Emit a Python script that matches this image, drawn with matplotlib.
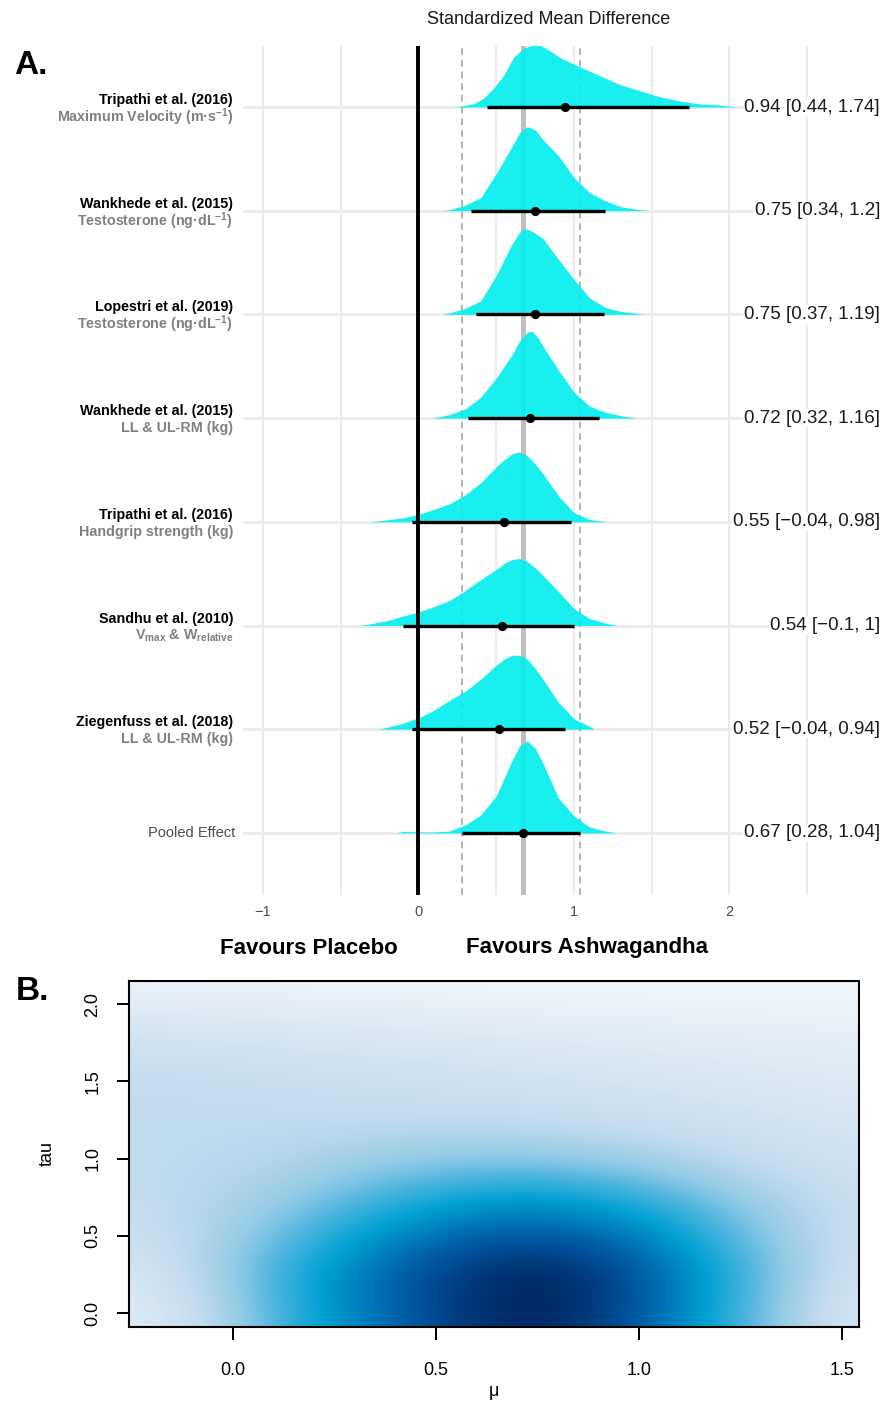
import numpy as np
import matplotlib
matplotlib.use("Agg")
import matplotlib.pyplot as plt
from matplotlib.colors import LinearSegmentedColormap

plt.rcParams['font.family'] = ['Liberation Sans', 'DejaVu Sans']
plt.rcParams['mathtext.fontset'] = 'custom'
plt.rcParams['mathtext.rm'] = 'Liberation Sans'
plt.rcParams['mathtext.bf'] = 'Liberation Sans:bold'
plt.rcParams['mathtext.it'] = 'Liberation Sans:italic'

# ---------------- data: panel A ----------------
study_names = ["Tripathi et al. (2016)", "Wankhede et al. (2015)", "Lopestri et al. (2019)",
               "Wankhede et al. (2015)", "Tripathi et al. (2016)", "Sandhu et al. (2010)",
               "Ziegenfuss et al. (2018)", "Pooled Effect"]
outcomes = [r"Maximum Velocity (m·s$^{\mathbf{-1}}$)", r"Testosterone (ng·dL$^{\mathbf{-1}}$)",
            r"Testosterone (ng·dL$^{\mathbf{-1}}$)", "LL & UL-RM (kg)", "Handgrip strength (kg)",
            r"$\mathbf{V}_{\mathbf{max}}$ & $\mathbf{W}_{\mathbf{relative}}$", "LL & UL-RM (kg)", ""]
smd = [0.94, 0.75, 0.75, 0.72, 0.55, 0.54, 0.52, 0.67]
ci_low = [0.44, 0.34, 0.37, 0.32, -0.04, -0.10, -0.04, 0.28]
ci_high = [1.74, 1.20, 1.19, 1.16, 0.98, 1.00, 0.94, 1.04]
value_labels = ["0.94 [0.44, 1.74]", "0.75 [0.34, 1.2]", "0.75 [0.37, 1.19]", "0.72 [0.32, 1.16]",
                "0.55 [\u22120.04, 0.98]", "0.54 [\u22120.1, 1]", "0.52 [\u22120.04, 0.94]",
                "0.67 [0.28, 1.04]"]
pooled_mean = 0.67
pooled_low = 0.28
pooled_high = 1.04

# posterior ridge profiles (x in SMD, heights in % of row spacing)
ridge0_x = [0.238, 0.356, 0.42, 0.484, 0.549, 0.613, 0.677, 0.73, 0.785, 0.849, 0.913, 1.04,
            1.17, 1.30, 1.43, 1.556, 1.685, 1.81, 1.92, 2.05]
ridge0_h = [0, 3.3, 9, 19, 32, 50, 59, 61.5, 61.5, 56, 49, 40, 31, 22, 16, 10, 6, 3, 2.3, 0]
ridge1_x = [0.15, 0.2, 0.3, 0.4, 0.5, 0.6, 0.65, 0.7, 0.75, 0.8, 0.9, 1.0, 1.1, 1.2, 1.3, 1.4, 1.49]
ridge1_h = [0, 1, 5.5, 13, 37, 64, 78, 84, 81, 71, 55, 33, 18, 10, 4, 1.5, 0]
ridge2_x = [0.15, 0.2, 0.3, 0.4, 0.5, 0.6, 0.65, 0.68, 0.72, 0.8, 0.9, 1.0, 1.1, 1.2, 1.3, 1.4, 1.45]
ridge2_h = [0, 1.5, 6, 13.5, 39, 70, 82, 86, 84, 76, 55, 35, 16.5, 7, 3, 1, 0]
ridge3_x = [0.09, 0.2, 0.3, 0.4, 0.5, 0.6, 0.65, 0.7, 0.73, 0.77, 0.8, 0.9, 1.0, 1.1, 1.2, 1.3, 1.4]
ridge3_h = [0, 3.5, 9, 21, 40, 63, 77, 86, 87, 80, 72, 48, 26, 12, 6, 2.5, 0]
ridge4_x = [-0.31, -0.2, -0.1, 0.0, 0.1, 0.2, 0.3, 0.4, 0.5, 0.55, 0.6, 0.65, 0.7, 0.75, 0.8,
            0.9, 1.0, 1.1, 1.21]
ridge4_h = [0, 2, 4, 7.5, 12.5, 18, 27, 39, 55, 62, 68, 70, 66, 58, 48, 26, 9, 2.5, 0]
ridge5_x = [-0.38, -0.3, -0.2, -0.1, 0.0, 0.1, 0.2, 0.3, 0.4, 0.5, 0.55, 0.6, 0.65, 0.7, 0.75,
            0.8, 0.9, 1.0, 1.1, 1.2, 1.28]
ridge5_h = [0, 2, 5, 9.5, 13.5, 19, 25, 35, 46, 56, 62, 66, 67, 64, 58, 50, 34, 17, 7, 2.5, 0]
ridge6_x = [-0.26, -0.2, -0.1, 0.0, 0.1, 0.2, 0.3, 0.4, 0.5, 0.55, 0.6, 0.65, 0.7, 0.75, 0.8,
            0.9, 1.0, 1.1, 1.13]
ridge6_h = [0, 2, 6, 11.5, 19, 29, 38, 50, 64, 70, 74, 74, 70, 61, 50, 27, 10.5, 3, 0]
ridge7_x = [-0.15, -0.1, 0.0, 0.1, 0.2, 0.3, 0.4, 0.5, 0.6, 0.65, 0.7, 0.75, 0.8, 0.9, 1.0,
            1.1, 1.2, 1.27]
ridge7_h = [0, 1.5, 1, 1, 2, 8, 18, 37, 72, 87, 92, 85, 70, 35, 17, 6, 2, 0]
ridges_x = [ridge0_x, ridge1_x, ridge2_x, ridge3_x, ridge4_x, ridge5_x, ridge6_x, ridge7_x]
ridges_h = [ridge0_h, ridge1_h, ridge2_h, ridge3_h, ridge4_h, ridge5_h, ridge6_h, ridge7_h]

x_ticks = [-1, 0, 1, 2]
x_ticklabels = ["\u22121", "0", "1", "2"]

# ---------------- data: panel B ----------------
mu_grid = [-0.25, -0.05, 0.15, 0.35, 0.55, 0.75, 0.95, 1.15, 1.35, 1.55]
tau_grid = [0.0, 0.25, 0.5, 0.75, 1.0, 1.25, 1.5, 1.75, 2.0, 2.25]
post_density = [
    [0.12, 0.33, 0.58, 0.76, 0.92, 1.00, 0.88, 0.66, 0.42, 0.17],
    [0.19, 0.37, 0.60, 0.78, 0.93, 1.00, 0.90, 0.68, 0.44, 0.22],
    [0.26, 0.36, 0.52, 0.68, 0.80, 0.84, 0.78, 0.60, 0.41, 0.26],
    [0.30, 0.34, 0.42, 0.54, 0.63, 0.66, 0.60, 0.48, 0.36, 0.26],
    [0.31, 0.32, 0.35, 0.40, 0.43, 0.43, 0.40, 0.34, 0.28, 0.23],
    [0.31, 0.31, 0.31, 0.31, 0.31, 0.30, 0.28, 0.25, 0.22, 0.19],
    [0.30, 0.30, 0.28, 0.27, 0.25, 0.23, 0.21, 0.19, 0.17, 0.15],
    [0.24, 0.23, 0.21, 0.19, 0.18, 0.16, 0.15, 0.13, 0.12, 0.11],
    [0.13, 0.12, 0.11, 0.10, 0.09, 0.08, 0.07, 0.07, 0.07, 0.07],
    [0.04, 0.04, 0.04, 0.04, 0.03, 0.03, 0.03, 0.03, 0.03, 0.03],
]
mu_ticks = [0.0, 0.5, 1.0, 1.5]
tau_ticks = [0.0, 0.5, 1.0, 1.5, 2.0]

# ---------------- figure ----------------
W, H = 888, 1403
fig = plt.figure(figsize=(W / 100, H / 100), dpi=100)


def fx(px):
    return px / W


def fy(py):
    return 1 - py / H


# ---- panel A ----
axA = fig.add_axes([fx(243), fy(895), (820 - 243) / W, (895 - 46) / H])
n = len(study_names)
rows = list(range(n, 0, -1))  # top row = n
axA.set_xlim(-1.1286, 2.582)
axA.set_ylim(0.402, n + 0.588)
for s in axA.spines.values():
    s.set_visible(False)
axA.set_yticks([])
axA.set_xticks(x_ticks)
axA.set_xticklabels(x_ticklabels)
axA.tick_params(axis='x', length=0, pad=7, labelsize=10.5, labelcolor='#4d4d4d')

grid_c = '#ebebeb'
for gx in [-1, -0.5, 0, 0.5, 1, 1.5, 2, 2.5]:
    axA.axvline(gx, color=grid_c, lw=1.5, zorder=0)
for r in rows:
    axA.axhline(r, color=grid_c, lw=2.0, zorder=0)

axA.axvline(pooled_low, color='#b3b3b3', lw=1.4, ls=(0, (3.5, 2.5)), zorder=1)
axA.axvline(pooled_high, color='#b3b3b3', lw=1.4, ls=(0, (3.5, 2.5)), zorder=1)
axA.axvline(pooled_mean, color='#bfbfbf', lw=3.6, zorder=1)

SCALE = 1 / 103.7
for i, r in enumerate(rows):
    xs = np.array(ridges_x[i])
    hs = np.array(ridges_h[i]) * SCALE
    axA.fill_between(xs, r, r + hs, color='#00eeee', alpha=0.9, lw=0, zorder=2, clip_on=False)

axA.axvline(0, color='black', lw=2.8, zorder=3)

for i, r in enumerate(rows):
    axA.plot([ci_low[i], ci_high[i]], [r, r], color='black', lw=2.4, solid_capstyle='butt', zorder=4)
    axA.plot([smd[i]], [r], 'o', color='black', ms=5.6, zorder=5)

# left labels
row_px = [107 + 103.7 * k for k in range(n)]
for i in range(n):
    if study_names[i] == "Pooled Effect":
        fig.text(fx(235), fy(row_px[i]), study_names[i], ha='right', va='center',
                 fontsize=10.5, color='#4d4d4d')
    else:
        fig.text(fx(233), fy(row_px[i] - 7), study_names[i], ha='right', va='center',
                 fontsize=10.3, fontweight='bold', color='black')
        fig.text(fx(233), fy(row_px[i] + 10), outcomes[i], ha='right', va='center',
                 fontsize=10.3, fontweight='bold', color='#808080')
    fig.text(fx(880), fy(row_px[i]), value_labels[i], ha='right', va='center',
             fontsize=13.5, color='#1a1a1a',
             bbox=dict(facecolor='white', edgecolor='none', pad=0.5), zorder=10)

fig.text(fx(549), fy(20), "Standardized Mean Difference", ha='center', va='center',
         fontsize=13, color='#1a1a1a')
fig.text(fx(14), fy(65), "A.", ha='left', va='center', fontsize=24, fontweight='bold')
fig.text(fx(309), fy(948), "Favours Placebo", ha='center', va='center',
         fontsize=16, fontweight='bold')
fig.text(fx(587), fy(948), "Favours Ashwagandha", ha='center', va='center',
         fontsize=16, fontweight='bold')

# ---- panel B ----
axB = fig.add_axes([fx(129), fy(1327), (859 - 129) / W, (1327 - 981) / H])
cmap = LinearSegmentedColormap.from_list('post', [
    (0.00, '#f7fafd'), (0.12, '#e3edf7'), (0.30, '#c4dcee'), (0.42, '#96cbe6'),
    (0.55, '#3db0dc'), (0.65, '#00a0d2'), (0.75, '#0078bb'), (0.85, '#00529c'),
    (0.93, '#00387a'), (1.00, '#01215a')])
dmu = mu_grid[1] - mu_grid[0]
dtau = tau_grid[1] - tau_grid[0]
axB.imshow(np.array(post_density), origin='lower', cmap=cmap, vmin=0, vmax=1,
           interpolation='bicubic', aspect='auto',
           extent=[mu_grid[0] - dmu / 2, mu_grid[-1] + dmu / 2,
                   tau_grid[0] - dtau / 2, tau_grid[-1] + dtau / 2])
axB.set_xlim(-0.256, 1.542)
axB.set_ylim(-0.09, 2.149)
for s in axB.spines.values():
    s.set_linewidth(1.5)
axB.set_xticks(mu_ticks)
axB.set_xticklabels([f"{v:.1f}" for v in mu_ticks])
axB.set_yticks(tau_ticks)
axB.set_yticklabels([f"{v:.1f}" for v in tau_ticks], rotation=90, va='center')
axB.tick_params(axis='x', length=9, width=1.4, pad=16, labelsize=13, direction='out')
axB.tick_params(axis='y', length=9, width=1.4, pad=11, labelsize=13, direction='out')
fig.text(fx(47), fy(1154), "tau", rotation=90, ha='center', va='center', fontsize=13)
fig.text(fx(494), fy(1392), "\u03bc", ha='center', va='center', fontsize=13)
fig.text(fx(16), fy(991), "B.", ha='left', va='center', fontsize=24, fontweight='bold')

fig.savefig("out.png", dpi=100)
